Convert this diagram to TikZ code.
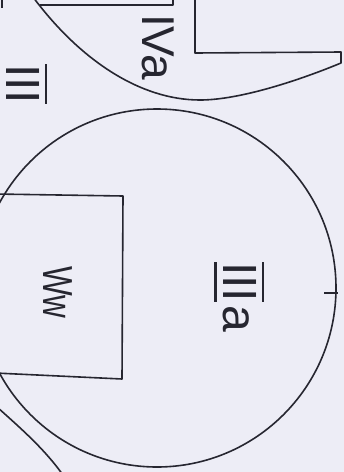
\documentclass[tikz,border=0pt]{standalone}
\usepackage{graphicx}
\usepackage{fontspec}
\setmainfont{Liberation Sans}
\definecolor{bg}{RGB}{237,237,246}
\definecolor{ink}{RGB}{38,38,48}
\newcommand{\barnum}[1]{\leavevmode\setbox0\hbox{#1}%
  \rlap{\rule[-9pt]{\wd0}{2.6pt}}%
  \rlap{\rule[\dimexpr\ht0+5.5pt\relax]{\wd0}{2.6pt}}\box0}
\begin{document}
\begin{tikzpicture}[x=1pt,y=-1pt,line join=round,
  outline/.style={draw=ink,line width=1.6pt},
  lbl/.style={text=ink,rotate=-90,anchor=base west,inner sep=0pt,outer sep=0pt}]
\useasboundingbox (0,0) rectangle (344,472);
\fill[bg] (0,0) rectangle (344,472);
\clip (0,0) rectangle (344,472);
% big circle IIIa
\draw[outline] (157,288) circle (179pt);
% Ww rectangle
\draw[outline] (-5,194) -- (123,196) -- (122,379) -- (-5,373);
% bottom-left arc
\draw[outline] (-3,407) .. controls (25,432) and (45,450) .. (63,475);
% IVa region outline
\draw[outline] (33,-3) .. controls (80,60) and (140,100) .. (200,100)
  .. controls (240,100) and (300,80) .. (341,63) -- (341,52) -- (195,53) -- (195,-3);
% top-left rectangle fragment
\draw[outline] (40,5) -- (173,5) -- (173,-3);
% tick on circle
\draw[outline] (324,293) -- (338,293);
% mark at top-left corner
\draw[outline] (2,-2) -- (2,8);
% labels
\node[lbl,font=\fontsize{48}{50}\selectfont] (t3a) at (223,262) {\barnum{III}\kern3pt a};
\node[lbl,font=\fontsize{48}{50}\selectfont] (t3) at (6,64) {\barnum{III}};
\node[lbl,font=\fontsize{46}{48}\selectfont] (t4a) at (142,14) {IVa};
\node[lbl,font=\fontsize{42}{44}\selectfont] (tw) at (43,266) {\scalebox{0.75}[1]{Ww}};
\end{tikzpicture}
\end{document}
